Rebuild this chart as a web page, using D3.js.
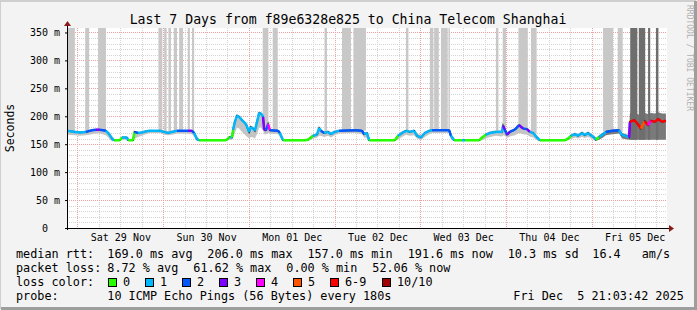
<!DOCTYPE html>
<html>
<head>
<meta charset="utf-8">
<script src="https://cdn.jsdelivr.net/npm/d3@7/dist/d3.min.js"></script>
<style>
body{margin:0;background:#f3f3f3;}
text{font-family:"DejaVu Sans Mono",monospace;}
</style>
</head>
<body>
<div id="chart"></div>
<script>
// hours after the graph start (Fri Nov 28 21:03:42)
var hrs  = [0,2.2,3.6,5.3,7.0,8.1,9.2,10.9,11.8,12.6,13.2,14.8,15.4,16.8,17.1,18.5,18.9,19.9,21.0,22.1,23.2,26.0,27.2,28.3,29.4,30.8,32.8,33.9,35.0,35.6,36.4,37.0,
            44.5,45.1,45.6,46.2,46.5,47.0,47.6,48.2,49.0,50.1,51.0,51.5,52.1,52.6,53.2,53.8,54.3,54.9,55.2,55.7,56.3,56.8,59.1,59.6,60.5,
            66.6,67.5,68.3,68.9,70.0,70.6,71.1,72.0,73.1,73.9,75.0,76.2,80.6,82.6,83.2,84.0,84.6,
            91.8,92.7,93.8,94.9,96.0,97.2,98.0,99.1,100.2,101.4,102.2,107.0,107.5,108.4,110.6,111.4,
            115.4,116.2,117.3,118.4,120.1,121.8,122.1,122.6,123.2,124.0,125.4,126.6,127.7,128.8,129.6,130.5,131.6,132.4,
            139.4,140.3,141.1,142.2,143.1,144.2,145.0,145.9,146.7,147.6,148.1,149.0,150.1,150.9,152.6,154.6,155.4,156.5,157.4,
            157.6,158.8,159.6,160.7,161.8,162.7,163.5,164.6,165.5,166.6,167.7];
// median rtt (ms)
var rtt  = [174,172,171,172,175,176,176,174,168,160,157,157,162,162,157,157,172,170,171,173,174,174,172,170,172,174,174,174,174,170,159,157,
            157,160,163,162,176,190,201,199,193,186,172,181,178,174,190,206,205,199,176,175,186,175,174,170,157,
            157,158,162,165,167,179,174,170,172,168,172,174,175,174,168,170,157,
            157,165,170,174,172,174,165,162,170,174,175,175,165,157,157,157,
            157,162,167,170,172,172,183,176,167,172,176,184,178,177,172,170,162,157,
            157,160,165,168,165,170,166,170,166,162,158,163,168,172,174,175,166,165,162,
            190,193,188,178,191,184,192,190,195,190,192];
// loss colour index (0..7)
var loss = [1,1,1,2,2,3,2,1,1,1,0,0,1,1,0,0,2,1,1,1,1,1,1,1,1,2,2,3,2,1,1,0,
            0,0,1,0,1,1,1,1,1,1,1,1,1,1,1,1,1,3,3,2,4,2,2,1,0,
            0,0,0,1,1,1,2,1,1,1,1,2,2,2,1,1,0,
            0,1,1,1,1,1,1,1,1,1,2,2,1,0,1,0,
            0,0,1,1,1,1,3,2,3,2,2,3,2,3,1,1,1,0,
            0,0,1,1,1,1,1,1,1,1,0,1,1,2,2,1,1,1,3,
            6,6,6,5,6,4,6,6,6,6,6];
// smoke spread (ms)
var smokeLo = [167,166,165,166,168,169,169,166,160,155,156,156,158,158,156,156,160,163,165,168,170,170,167,166,167,169,169,169,168,163,156,156,
            156,157,158,158,162,170,180,178,172,165,160,163,162,160,168,180,180,175,168,168,170,169,168,163,156,
            156,156,158,160,162,165,165,163,165,162,166,169,170,168,162,161,156,
            156,158,163,167,165,166,160,158,163,168,170,170,159,156,156,156,
            156,157,160,163,165,164,166,165,161,164,166,170,168,167,164,162,157,156,
            156,157,159,162,160,163,161,163,160,157,156,158,162,166,168,169,160,159,158,
            158,158,158,158,158,158,158,158,158,158,158];
var smokeHi = [176,174,173,174,177,178,178,176,172,165,159,158,164,164,158,158,174,172,173,175,176,176,175,173,175,176,176,176,176,173,165,158,
            158,161,165,165,178,193,204,201,196,189,176,183,180,177,192,208,207,201,180,178,188,177,176,173,159,
            158,160,165,168,170,181,176,173,175,172,175,176,177,176,172,172,159,
            158,168,173,176,175,176,170,166,173,176,177,177,170,159,158,158,
            158,164,170,173,175,175,186,178,172,175,179,186,181,180,175,173,166,159,
            158,162,168,171,169,173,170,173,169,166,161,166,171,174,176,177,170,168,166,
            205,208,205,200,206,204,206,205,207,205,205];

// periods where the smoke runs up to the top of the graph
var bandStart = [0.3,5.1,8.7,25.6,27.2,28.4,29.9,31.4,33.8,35.0,54.8,57.6,72.1,77.0,80.2,94.9,101.6,102.8,104.7,106.8,120.1,122.0,126.4,129.9,150.1,154.2];
var bandEnd   = [2.2,6.2,10.9,26.7,27.9,29.1,30.8,32.5,34.4,35.6,56.4,59.0,72.8,79.5,83.7,95.6,102.6,104.1,106.6,107.2,120.8,122.9,129.0,131.5,152.9,155.6];
// heavy loss periods (dark)
var darkStart = [157.7,160.1,162.7,164.9];
var darkEnd   = [159.7,161.9,163.3,165.6];

var lossLabels = ["0","1","2","3","4","5","6-9","10/10"];
var lossColors = ["#26ff00","#00b8ff","#0059ff","#7e00ff","#ff00ff","#ff5500","#ff0000","#a10000"];

var yTicks  = [0,50,100,150,200,250,300,350];
var yLabels = ["0  ","50 m","100 m","150 m","200 m","250 m","300 m","350 m"];

var rttItems  = ["median rtt:","169.0 ms avg","206.0 ms max","157.0 ms min","191.6 ms now","10.3 ms sd","16.4","am/s"];
var lossItems = ["packet loss:","8.72 % avg","61.62 % max","0.00 % min","52.06 % now"];
var probeItems = ["probe:","10 ICMP Echo Pings (56 Bytes) every 180s","Fri Dec  5 21:03:42 2025"];
var title = "Last 7 Days from f89e6328e825 to China Telecom Shanghai";

// keep runs of spaces in svg text
var keep = function(s){ return s.replace(/ /g, "\u00a0"); };

function init(){
  var w = 697, h = 310;
  var left = 67, right = 667, top = 28, bottom = 228;

  var svg = d3.select("#chart").append("svg")
      .attr("width", w)
      .attr("height", h);

  var start = new Date(2025, 10, 28, 21, 3, 42);
  var end = new Date(2025, 11, 5, 21, 3, 42);
  var t = function(hh){ return new Date(start.getTime() + hh * 3600e3); };

  var x = d3.scaleTime().domain([start, end]).range([left, right]);
  var y = d3.scaleLinear().domain([0, 358]).range([bottom, top]);

  // frame
  svg.append("rect").attr("width", w).attr("height", h).attr("fill", "#f3f3f3");
  svg.append("path").attr("d", "M0,"+(h-1)+"V1H"+(w-1)).attr("stroke", "#cfcfcf").attr("stroke-width", 2).attr("fill", "none");
  svg.append("path").attr("d", "M1,"+(h-1.5)+"H"+(w-1.5)+"V1").attr("stroke", "#9e9e9e").attr("stroke-width", 3).attr("fill", "none");

  svg.append("rect")
      .attr("x", left).attr("y", top)
      .attr("width", right - left).attr("height", bottom - top)
      .attr("fill", "#ffffff");

  // grid
  var grid = svg.append("g").attr("shape-rendering", "crispEdges");
  var minorX = d3.timeHour.every(6).range(start, end).filter(function(d){ return d.getHours() != 0; });
  var majorX = d3.timeDay.range(start, end);
  grid.selectAll(".vmin").data(minorX).enter().append("line")
      .attr("x1", function(d){ return Math.round(x(d)) + 0.5; })
      .attr("x2", function(d){ return Math.round(x(d)) + 0.5; })
      .attr("y1", top).attr("y2", bottom)
      .attr("stroke", "#d4d4d4").attr("stroke-dasharray", "1,1");
  var minorY = d3.range(10, 358, 10).filter(function(v){ return v % 50 != 0; });
  grid.selectAll(".hmin").data(minorY).enter().append("line")
      .attr("x1", left).attr("x2", right)
      .attr("y1", function(d){ return Math.round(y(d)) + 0.5; })
      .attr("y2", function(d){ return Math.round(y(d)) + 0.5; })
      .attr("stroke", "#d4d4d4").attr("stroke-dasharray", "1,1");
  grid.selectAll(".vmaj").data(majorX).enter().append("line")
      .attr("x1", function(d){ return Math.round(x(d)) + 0.5; })
      .attr("x2", function(d){ return Math.round(x(d)) + 0.5; })
      .attr("y1", top).attr("y2", bottom)
      .attr("stroke", "#f0a0a0").attr("stroke-dasharray", "1,1");
  grid.selectAll(".hmaj").data(yTicks.slice(1)).enter().append("line")
      .attr("x1", left).attr("x2", right)
      .attr("y1", function(d){ return Math.round(y(d)) + 0.5; })
      .attr("y2", function(d){ return Math.round(y(d)) + 0.5; })
      .attr("stroke", "#f0a0a0").attr("stroke-dasharray", "1,1");

  // interpolated median at a given hour (for the bottom of the bands)
  var medAt = function(hh){
    var i = d3.bisectRight(hrs, hh);
    if (i <= 0) return rtt[0];
    if (i >= hrs.length) return rtt[rtt.length - 1];
    var f = (hh - hrs[i-1]) / (hrs[i] - hrs[i-1]);
    return rtt[i-1] + f * (rtt[i] - rtt[i-1]);
  };

  // loss bands to the top
  svg.append("g").selectAll("rect").data(bandStart).enter().append("rect")
      .attr("x", function(d){ return x(t(d)); })
      .attr("width", function(d, i){ return x(t(bandEnd[i])) - x(t(d)); })
      .attr("y", top)
      .attr("height", function(d, i){ return y(medAt((d + bandEnd[i]) / 2)) - top; })
      .attr("fill", "#c8c8c8");

  // smoke
  var pts = hrs.map(function(d, i){ return {t: t(d), med: rtt[i], lo: smokeLo[i], hi: smokeHi[i], loss: loss[i]}; });
  var area = d3.area()
      .x(function(d){ return x(d.t); })
      .y0(function(d){ return y(d.lo); })
      .y1(function(d){ return y(d.hi); });
  var split = 118;
  svg.append("path").datum(pts.slice(0, split + 1)).attr("d", area).attr("fill", "#c4c4c4");
  svg.append("path").datum(pts.slice(split)).attr("d", area).attr("fill", "#7a7a7a");

  // dark bands
  svg.append("g").selectAll("rect").data(darkStart).enter().append("rect")
      .attr("x", function(d){ return x(t(d)); })
      .attr("width", function(d, i){ return x(t(darkEnd[i])) - x(t(d)); })
      .attr("y", top)
      .attr("height", y(158) - top)
      .attr("fill", "#6e6e6e");

  // median line
  var line = d3.line().x(function(d){ return x(d.t); }).y(function(d){ return y(d.med); });
  svg.append("path").datum(pts).attr("d", line)
      .attr("fill", "none").attr("stroke", "#202020").attr("stroke-width", 1.6);
  var segs = d3.pairs(pts);
  svg.append("g").selectAll("path").data(segs).enter().append("path")
      .attr("d", function(d){ return line(d); })
      .attr("fill", "none")
      .attr("stroke", function(d){ return lossColors[d[0].loss]; })
      .attr("stroke-width", 2.5);

  // axes
  var yAxis = d3.axisLeft(y).tickValues(yTicks).tickSize(2).tickPadding(5)
      .tickFormat(function(d, i){ return keep(yLabels[i]); });
  var gy = svg.append("g").attr("transform", "translate(" + left + ",0)").call(yAxis);
  gy.select(".domain").remove();
  gy.selectAll("text").style("font-size", "10px")
      .attr("font-family", null).attr("fill", "#000");
  gy.selectAll("line").attr("stroke", "#000");

  var noons = d3.timeDay.range(start, end).map(function(d){ return d3.timeHour.offset(d, 12); });
  var xAxis = d3.axisBottom(x).tickValues(noons).tickSize(0).tickPadding(6)
      .tickFormat(d3.timeFormat("%a %d %b"));
  var gx = svg.append("g").attr("transform", "translate(0," + bottom + ")").call(xAxis);
  gx.select(".domain").remove();
  gx.selectAll("text").style("font-size", "10px").attr("font-family", null).attr("fill", "#000");

  svg.append("line").attr("x1", left + 0.5).attr("x2", left + 0.5).attr("y1", bottom + 2).attr("y2", 25)
      .attr("stroke", "#000");
  svg.append("line").attr("x1", left - 2).attr("x2", 670).attr("y1", bottom + 0.5).attr("y2", bottom + 0.5)
      .attr("stroke", "#000");
  svg.append("path").attr("d", "M64,26L71,26L67.5,21Z").attr("fill", "#8b1a1a");
  svg.append("path").attr("d", "M669,225L669,232L674,228.5Z").attr("fill", "#8b1a1a");

  // titles
  svg.append("text").attr("x", 348).attr("y", 24).attr("text-anchor", "middle")
      .style("font-size", "13.2px").text(title);
  svg.append("text").attr("transform", "translate(14,128) rotate(-90)").attr("text-anchor", "middle")
      .style("font-size", "11.5px").text("Seconds");
  svg.append("text").attr("transform", "translate(687,5) rotate(90)")
      .style("font-size", "8px").attr("fill", "#b0b0b0").text("RRDTOOL / TOBI OETIKER");

  // legend, items placed like rrdtool's justified legend
  var lg = svg.append("g").style("font-size", "11.8px");
  var rttX = [16, 107.3, 207.3, 307.4, 407.7, 507.7, 592.3, 641.7];
  rttItems.forEach(function(s, i){
    lg.append("text").attr("x", rttX[i]).attr("y", 258).text(keep(s));
  });
  var lossX = [16, 107.3, 193.3, 286.3, 372.3];
  lossItems.forEach(function(s, i){
    lg.append("text").attr("x", lossX[i]).attr("y", 272).text(keep(s));
  });
  lg.append("text").attr("x", 16).attr("y", 286).text(keep("loss color:"));
  var boxX = [108, 145, 182, 219, 256, 293, 330, 382];
  lossLabels.forEach(function(l, i){
    lg.append("rect").attr("x", boxX[i] + 0.5).attr("y", 278.5).attr("width", 8).attr("height", 8)
        .attr("fill", lossColors[i]).attr("stroke", "#000");
    lg.append("text").attr("x", boxX[i] + 15).attr("y", 286).text(l);
  });
  var probeX = [16, 107.3, 513.3];
  probeItems.forEach(function(s, i){
    lg.append("text").attr("x", probeX[i]).attr("y", 300).text(keep(s));
  });
}
window.onload = init;
</script>
</body>
</html>
